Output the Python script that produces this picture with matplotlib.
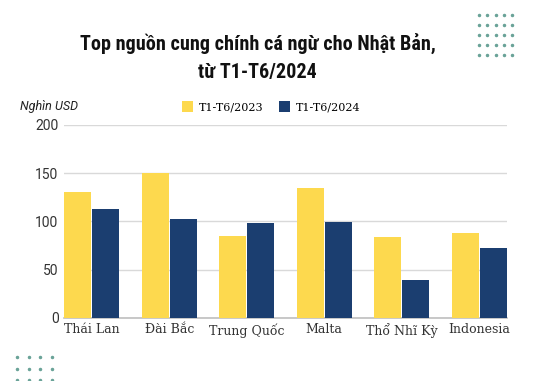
import numpy as np
import matplotlib.pyplot as plt
from matplotlib import font_manager

countries = ["Thái Lan", "Đài Bắc", "Trung Quốc", "Malta", "Thổ Nhĩ Kỳ", "Indonesia"]
val_2023 = [130, 150, 85, 135, 84, 88]
val_2024 = [113, 102, 98, 99, 39, 72]
series_names = ["T1-T6/2023", "T1-T6/2024"]
yticks = [0, 50, 100, 150, 200]

yellow = "#FDD94E"
navy = "#1B3E70"


def pick_font(names, **kw):
    # first family that is really installed
    for n in names:
        try:
            font_manager.findfont(font_manager.FontProperties(family=n, **kw),
                                  fallback_to_default=False)
            return n
        except Exception:
            pass
    return names[-1]


title_font = pick_font(["Roboto Condensed", "DejaVu Sans Condensed",
                        "Liberation Sans Narrow", "Roboto"], weight="bold")
slab_font = pick_font(["Roboto Slab", "DejaVu Serif Condensed", "DejaVu Serif"])

fig = plt.figure(figsize=(5.48, 3.81), dpi=100)
ax = fig.add_axes([0.117, 0.166, 0.808, 0.506])

x = np.arange(len(countries))
w = 0.35
ax.bar(x - 0.18, val_2023, w, color=yellow, label=series_names[0], zorder=3)
ax.bar(x + 0.18, val_2024, w, color=navy, label=series_names[1], zorder=3)

ax.set_xlim(-0.355, len(countries) - 1 + 0.355)
ax.set_ylim(0, 200)
ax.set_yticks(yticks)
ax.yaxis.grid(True, color="#d9d9d9", linewidth=1, zorder=0)
ax.set_xticks(x)
ax.set_xticklabels(countries, family=slab_font, fontsize=9, color="#333333")
for lab in ax.get_yticklabels():
    lab.set_fontsize(10)
    lab.set_color("#333333")
    lab.set_family("Roboto")
ax.tick_params(length=0, pad=4)
for s in ["top", "right", "left"]:
    ax.spines[s].set_visible(False)
ax.spines["bottom"].set_color("#bfbfbf")
ax.spines["bottom"].set_linewidth(1.2)

fig.text(0.47, 0.848, "Top nguồn cung chính cá ngừ cho Nhật Bản,\ntừ T1-T6/2024",
         ha="center", va="center", fontsize=14.5, fontweight="bold",
         family=title_font, linespacing=1.55, color="#111111")
fig.text(0.037, 0.72, "Nghìn USD", fontsize=9, style="italic", family="Roboto",
         va="center", color="#222222")

ax.legend(loc="center", bbox_to_anchor=(0.495, 0.72), bbox_transform=fig.transFigure,
          ncol=2, frameon=False, handlelength=1.0, handleheight=1.2,
          columnspacing=1.4, handletextpad=0.5,
          prop={"family": slab_font, "size": 8})

# decorative dot grids
dot_col = "#6aa398"
gx, gy = np.meshgrid(np.linspace(479, 512, 5), np.linspace(15, 55, 5))
fig.add_artist(plt.Line2D(gx.ravel() / 548, 1 - gy.ravel() / 381, linestyle="None",
                          marker="o", markersize=1.5, color=dot_col))
bx, by = np.meshgrid(np.linspace(17, 52, 4), np.linspace(357, 380, 3))
fig.add_artist(plt.Line2D(bx.ravel() / 548, 1 - by.ravel() / 381, linestyle="None",
                          marker="o", markersize=1.5, color=dot_col))

fig.savefig("out.png", dpi=100)
